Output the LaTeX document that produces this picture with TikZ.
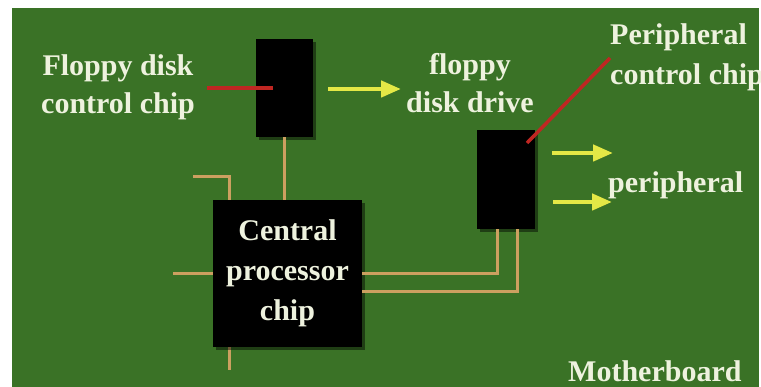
\documentclass[tikz,border=0pt]{standalone}
\usepackage{fontspec}
\setmainfont{Liberation Serif}
\usetikzlibrary{arrows.meta,shadows}
\definecolor{board}{RGB}{58,114,38}
\definecolor{trace}{RGB}{204,160,96}
\definecolor{lead}{RGB}{192,38,34}
\definecolor{arrowc}{RGB}{228,232,70}
\definecolor{labelc}{RGB}{238,242,222}
\begin{document}
\begin{tikzpicture}[x=1pt,y=-1pt,
  chip/.style={fill=black, draw=none, inner sep=0pt,
    drop shadow={shadow xshift=3pt,shadow yshift=-3pt,opacity=0.45,fill=black}},
  lbl/.style={text=labelc, font=\bfseries\fontsize{30}{38}\selectfont, inner sep=0pt},
  lblwide/.style={lbl, font=\bfseries\fontsize{30}{40}\selectfont},
  tr/.style={draw=trace, line width=3pt},
  rd/.style={draw=lead, line width=4pt},
  yarr/.style={draw=arrowc, line width=4.5pt, -{Triangle[length=20pt,width=16pt]}}]
\useasboundingbox (0,0) rectangle (761,387);
\fill[white] (0,0) rectangle (761,387);
\fill[board] (12,8) rectangle (759,387);
% traces behind the chips
\coordinate (bl) at (193,177);
\coordinate (bc) at (229,177);
\coordinate (bb) at (229,370);
\draw[tr] (bl) -- (bc) -- (bb);
\coordinate (lw) at (173,273.5);
% chips
\node[chip, minimum width=57pt, minimum height=98pt] (fdc) at (284.5,88) {};
\node[chip, minimum width=58pt, minimum height=99pt] (pc) at (506,179.5) {};
\node[chip, lblwide, fill=black, align=center, minimum width=149pt, minimum height=147pt] (cpu) at (287.5,273.5) {Central\\processor\\chip};
\draw[tr] (lw) -- (cpu.west);
\draw[tr] (fdc.south) -- (fdc.south |- cpu.north);
\coordinate (r1) at (497,273.5);
\coordinate (r2) at (517,292);
\draw[tr] (cpu.east) -- (r1) -- (r1 |- pc.south);
\draw[tr] (cpu.east |- r2) -- (r2) -- (r2 |- pc.south);
% labels
\node[lbl, align=center] (fdclbl) at (118,87) {Floppy disk\\control chip};
\node[lbl, align=center] (fddlbl) at (470,83) {floppy\\disk drive};
\node[lblwide, align=left, anchor=west] (pclbl) at (610,57.6) {Peripheral\\control chip};
\node[lbl, anchor=base west] (perlbl) at (608,193) {peripheral};
\node[lbl, anchor=base west] (mb) at (568,382) {Motherboard};
% red leads
\coordinate (fdcl) at (207,88);
\coordinate (fdcin) at (273,88);
\draw[rd] (fdcl) -- (fdcin);
\coordinate (pca) at (527,143);
\coordinate (pcb) at (610,58);
\draw[rd, line width=3.5pt] (pca) -- (pcb);
% yellow arrows
\coordinate (a1s) at (328,89);
\coordinate (a1e) at (401,89);
\draw[yarr] (a1s) -- (a1e);
\coordinate (a2s) at (552,153);
\coordinate (a2e) at (613,153);
\draw[yarr] (a2s) -- (a2e);
\coordinate (a3s) at (553,202);
\coordinate (a3e) at (612,202);
\draw[yarr] (a3s) -- (a3e);
\end{tikzpicture}
\end{document}
